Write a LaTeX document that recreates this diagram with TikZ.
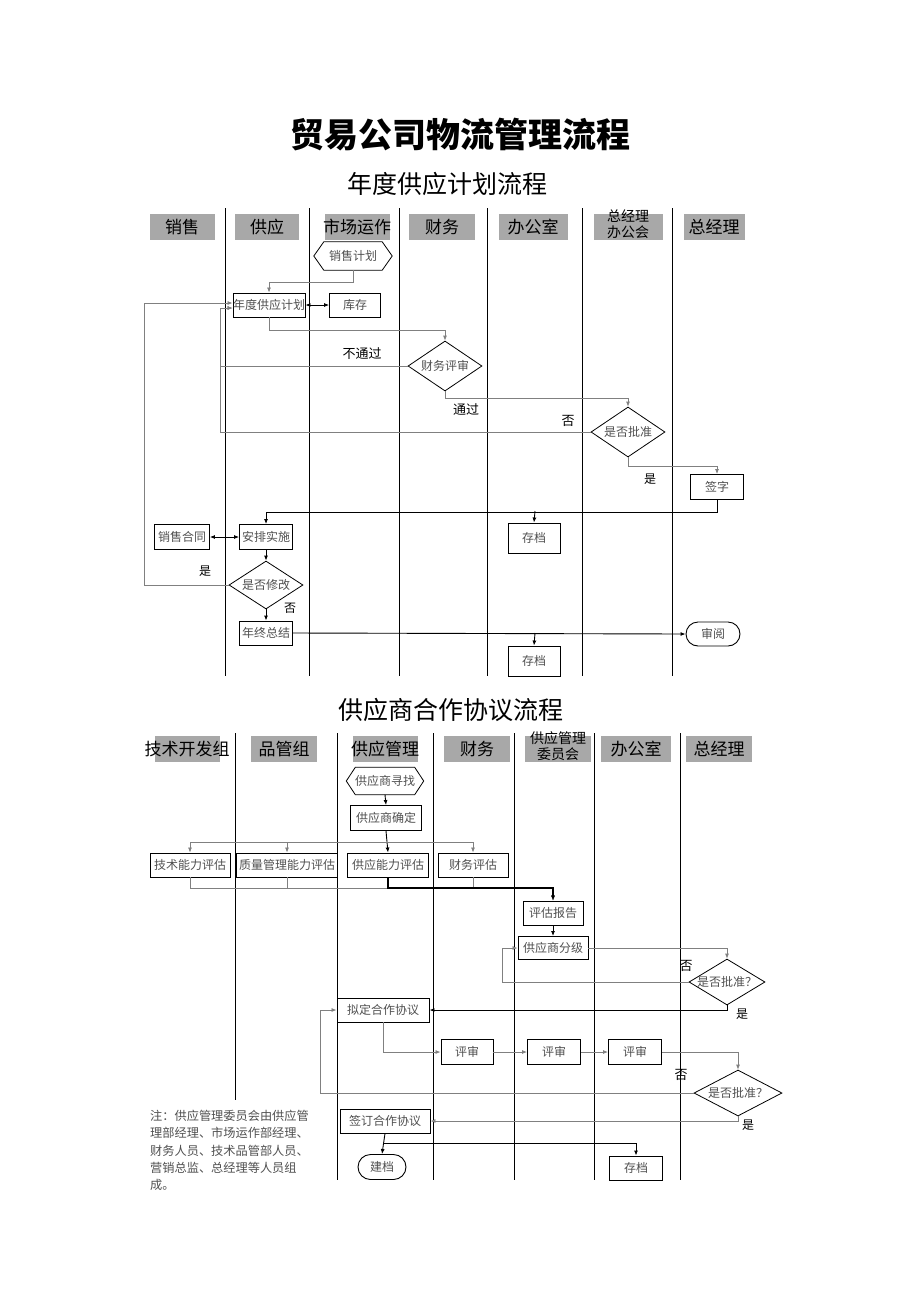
\documentclass[tikz,border=0pt]{standalone}
\usepackage{fontspec}
\newfontfamily\cjk{Noto Sans CJK SC}
\usetikzlibrary{arrows.meta,shapes.geometric,shapes.misc}
\definecolor{hdrgray}{HTML}{A8A8A8}
\definecolor{txtgray}{HTML}{505050}
\definecolor{lgray}{HTML}{808080}
\tikzset{
  lane/.style={line width=1pt,black},
  hdr/.style={fill=hdrgray,minimum height=26pt,inner sep=0pt},
  htxt/.style={font=\cjk\fontsize{17}{19}\selectfont,text=black},
  box/.style={draw,line width=0.9pt,inner sep=0pt,minimum height=25pt,font=\cjk\fontsize{12}{12}\selectfont,text=txtgray},
  stad/.style={box,rounded rectangle},
  hexa/.style={inner sep=0pt,minimum height=28pt,font=\cjk\fontsize{12}{12}\selectfont,text=txtgray},
  dia/.style={diamond,draw,line width=0.8pt,inner sep=0pt},
  dtxt/.style={font=\cjk\fontsize{12}{12}\selectfont,text=txtgray},
  conn/.style={line width=0.8pt,draw=lgray,-{Latex[length=5pt,width=4pt]}},
  connk/.style={line width=0.9pt,draw=black,-{Latex[length=5pt,width=4pt]}},
  dbl/.style={line width=0.8pt,draw=black,{Latex[length=5pt,width=4pt]}-{Latex[length=5pt,width=4pt]}},
  lbl/.style={font=\cjk\fontsize{13}{13}\selectfont,text=black},
}
\newcommand{\hexpath}[2]{\draw[line width=0.8pt] (#1.west) -- ([xshift=#2]#1.north west) -- ([xshift=-#2]#1.north east) -- (#1.east) -- ([xshift=-#2]#1.south east) -- ([xshift=#2]#1.south west) -- cycle;}
\begin{document}
\begin{tikzpicture}[x=1pt,y=-1pt]
\useasboundingbox[fill=white] (0,0) rectangle (920,1302);
% titles
\node[font=\cjk\bfseries\fontsize{34}{34}\selectfont] (title) at (460,135) {贸易公司物流管理流程};
\node[font=\cjk\fontsize{25}{25}\selectfont] (sub1) at (447,184) {年度供应计划流程};
\node[font=\cjk\fontsize{25}{25}\selectfont] (sub2) at (451,710) {供应商合作协议流程};

% ===== top chart lanes
\foreach \x in {225,309,399,487,582,672} \draw[lane] (\x,208) -- (\x,676);
\node[hdr,minimum width=65pt,label={[htxt]center:销售}] (h1) at (182,227) {};
\node[hdr,minimum width=64pt,label={[htxt]center:供应}] (h2) at (267,227) {};
\node[hdr,minimum width=65pt,label={[htxt]center:市场运作}] (h3) at (357,227) {};
\node[hdr,minimum width=66pt,label={[htxt]center:财务}] (h4) at (442,227) {};
\node[hdr,minimum width=69pt,label={[htxt]center:办公室}] (h5) at (533,227) {};
\node[hdr,minimum width=69pt,label={[htxt,font=\cjk\fontsize{14}{16}\selectfont,align=center,yshift=3pt]center:总经理\\办公会}] (h6) at (628,227) {};
\node[hdr,minimum width=61pt,label={[htxt]center:总经理}] (h7) at (714,227) {};

% top nodes
\node[hexa,minimum width=78pt] (xsjh) at (353,256) {销售计划};
\hexpath{xsjh}{10pt}
\node[box,minimum width=70pt,minimum height=24pt] (ndjh) at (269,305) {年度供应计划};
\node[box,minimum width=51pt,minimum height=24pt] (kc) at (355,305) {库存};
\node[dia,minimum width=74pt,minimum height=50pt,label={[dtxt]center:财务评审}] (cwps) at (445,366) {};
\node[dia,minimum width=74pt,minimum height=50pt,label={[dtxt]center:是否批准}] (sfpz) at (628,432) {};
\node[box,minimum width=53pt] (qz) at (717,487) {签字};
\node[box,minimum width=52pt,minimum height=30pt] (cd1) at (534,538) {存档};
\node[box,minimum width=55pt] (xsht) at (182,537) {销售合同};
\node[box,minimum width=53pt] (apss) at (266,537) {安排实施};
\node[dia,minimum width=74pt,minimum height=48pt,label={[dtxt]center:是否修改}] (sfxg) at (266,585) {};
\node[box,minimum width=53pt,minimum height=24pt] (nzzj) at (266,633) {年终总结};
\node[box,minimum width=52pt,minimum height=30pt] (cd2) at (534,661) {存档};
\node[stad,minimum width=54pt,minimum height=24pt] (sy) at (713,634) {审阅};

% top connectors
\draw[conn] (xsjh.south) -- ++(0,12) -| (ndjh.north);
\draw[dbl] (ndjh.east) -- (kc.west);
\draw[conn] (ndjh.south) -- ++(0,13) -| (cwps.north);
\draw[conn] (cwps.west) -- (220,366) |- ([yshift=-3pt]ndjh.west);
\draw[conn] (cwps.south) -- ++(0,7) -| (sfpz.north);
\draw[conn] (sfpz.west) -- (220,432) |- ([yshift=-3pt]ndjh.west);
\draw[conn] (sfpz.south) -- ++(0,9) -| (qz.north);
\coordinate (j1) at (535,511);
\draw[connk] (qz.south) -- ++(0,12) -| (apss.north);
\draw[connk] (j1) -- (cd1.north);
\draw[dbl] (xsht.east) -- (apss.west);
\draw[connk] (apss.south) -- (sfxg.north);
\draw[conn] (sfxg.west) -- (144,585) |- ([yshift=2pt]ndjh.west);
\draw[connk] (sfxg.south) -- (nzzj.north);
\draw[connk] (nzzj.east) -- (sy.west);
\coordinate (j2) at (535,633);
\draw[connk] (j2) -- (cd2.north);

\node[lbl] (l1) at (362,354) {不通过};
\node[lbl] (l2) at (466,410) {通过};
\node[lbl] (l3) at (568,421) {否};
\node[lbl,font=\cjk\fontsize{12}{12}\selectfont] (l4) at (650,479) {是};
\node[lbl,font=\cjk\fontsize{12}{12}\selectfont] (l5) at (205,571) {是};
\node[lbl,font=\cjk\fontsize{12}{12}\selectfont] (l6) at (290,608) {否};

% ===== bottom chart lanes
\draw[lane] (235,733) -- (235,1100);
\foreach \x in {337,433,514,594,680} \draw[lane] (\x,733) -- (\x,1180);
\node[hdr,minimum width=65pt,label={[htxt]center:技术开发组}] (g1) at (187,749) {};
\node[hdr,minimum width=66pt,label={[htxt]center:品管组}] (g2) at (284,749) {};
\node[hdr,minimum width=65pt,label={[htxt]center:供应管理}] (g3) at (385,749) {};
\node[hdr,minimum width=66pt,label={[htxt]center:财务}] (g4) at (477,749) {};
\node[hdr,minimum width=66pt,label={[htxt,font=\cjk\fontsize{14}{16}\selectfont,align=center,yshift=3pt]center:供应管理\\委员会}] (g5) at (558,749) {};
\node[hdr,minimum width=70pt,label={[htxt]center:办公室}] (g6) at (636,749) {};
\node[hdr,minimum width=66pt,label={[htxt]center:总经理}] (g7) at (719,749) {};

% bottom nodes
\node[hexa,minimum width=77pt,minimum height=27pt] (gyzz) at (385,781) {供应商寻找};
\hexpath{gyzz}{9pt}
\node[box,minimum width=71pt] (gyqd) at (386,818) {供应商确定};
\node[box,minimum width=80pt,minimum height=24pt] (jsnl) at (190,865) {技术能力评估};
\node[box,minimum width=101pt,minimum height=24pt] (zlnl) at (287,865) {质量管理能力评估};
\node[box,minimum width=81pt,minimum height=24pt] (gynl) at (388,865) {供应能力评估};
\node[box,minimum width=70pt,minimum height=24pt] (cwpg) at (473,865) {财务评估};
\node[box,minimum width=60pt,minimum height=24pt] (pgbg) at (553,913) {评估报告};
\node[box,minimum width=70pt,minimum height=23pt] (gyfj) at (553,948) {供应商分级};
\node[dia,minimum width=76pt,minimum height=46pt,label={[dtxt]center:是否批准？}] (pz1) at (727,982) {};
\node[box,minimum width=92pt,minimum height=24pt] (ndhz) at (383,1010) {拟定合作协议};
\node[box,minimum width=52pt] (ps1) at (467,1052) {评审};
\node[box,minimum width=53pt] (ps2) at (554,1052) {评审};
\node[box,minimum width=53pt] (ps3) at (635,1052) {评审};
\node[dia,minimum width=88pt,minimum height=46pt,label={[dtxt]center:是否批准？}] (pz2) at (738,1093) {};
\node[box,minimum width=90pt,minimum height=24pt] (qdhz) at (385,1121) {签订合作协议};
\node[stad,minimum width=48pt] (jd) at (382,1167) {建档};
\node[box,minimum width=53pt,minimum height=24pt] (cd3) at (636,1168) {存档};

% bottom connectors
\draw[connk] (gyzz.south) -- (gyqd.north);
\coordinate (s1) at (386,842);
\draw[connk] (gyqd.south) -- (gynl.north);
\draw[conn] (s1) -| (jsnl.north);
\draw[conn] (s1) -| (zlnl.north);
\draw[conn] (s1) -| (cwpg.north);
\coordinate (s2) at (553,888);
\draw[conn] (jsnl.south) |- (s2) -- (pgbg.north);
\draw[conn] (zlnl.south) |- (s2) -- (pgbg.north);
\draw[conn] (cwpg.south) |- (s2) -- (pgbg.north);
\draw[connk,line width=1.1pt] (gynl.south) |- (s2) -- (pgbg.north);
\draw[connk] (pgbg.south) -- (gyfj.north);
\draw[conn] (gyfj.east) -| (pz1.north);
\draw[conn] (pz1.west) -- (502,982) |- (gyfj.west);
\draw[connk] (pz1.south) |- (ndhz.east);
\draw[conn] (ndhz.south) |- (ps1.west);
\draw[conn] (ps1.east) -- (ps2.west);
\draw[conn] (ps2.east) -- (ps3.west);
\draw[conn] (ps3.east) -| (pz2.north);
\draw[conn] (pz2.west) -- (320,1093) |- (ndhz.west);
\draw[conn] (pz2.south) |- (qdhz.east);
\draw[connk] (qdhz.south) -- (jd.north);
\coordinate (s3) at (383,1143);
\draw[connk] (s3) -| (cd3.north);

\node[lbl] (m1) at (686,966) {否};
\node[lbl,font=\cjk\fontsize{12}{12}\selectfont] (m2) at (742,1014) {是};
\node[lbl] (m3) at (681,1075) {否};
\node[lbl,font=\cjk\fontsize{12}{12}\selectfont] (m4) at (748,1125) {是};

% note
\node[anchor=north west,align=left,inner sep=0pt,text=txtgray,font=\cjk\fontsize{12.2}{17.3}\selectfont] (note) at (150,1110) {注：供应管理委员会由供应管\\理部经理、市场运作部经理、\\财务人员、技术品管部人员、\\营销总监、总经理等人员组\\成。};
\end{tikzpicture}
\end{document}
